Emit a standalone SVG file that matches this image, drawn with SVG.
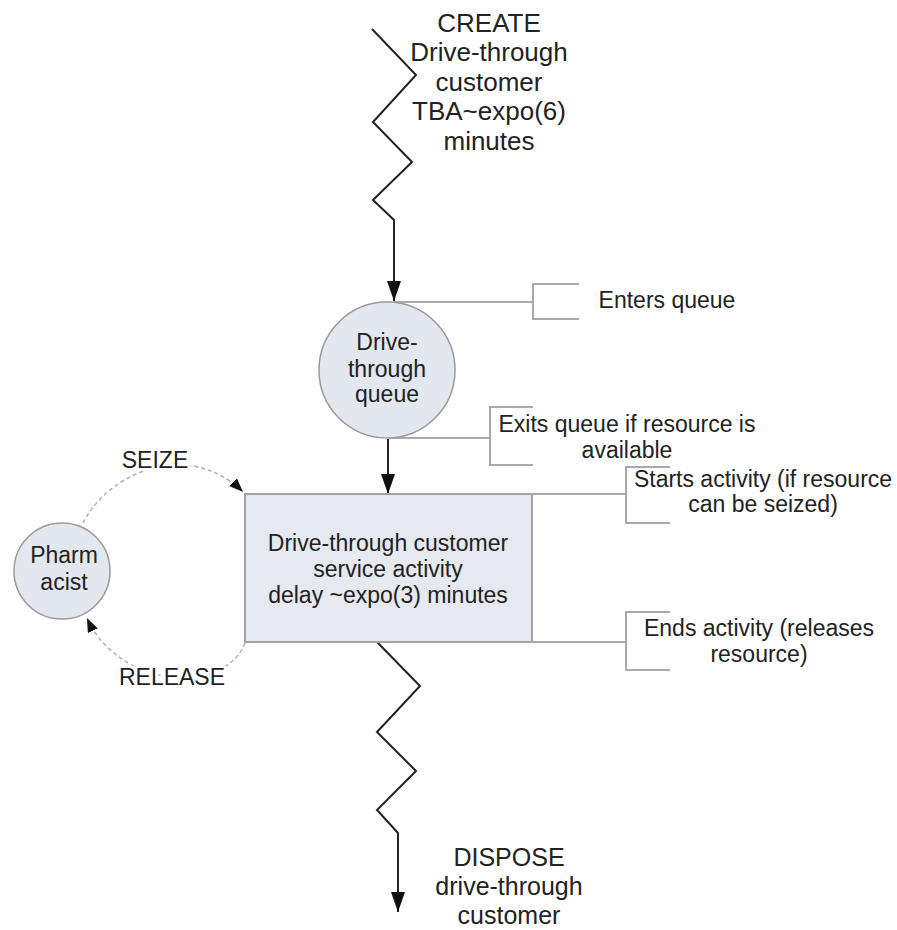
<svg xmlns="http://www.w3.org/2000/svg" width="897" height="930" viewBox="0 0 897 930">
  <style>
    .t { font-family: "Liberation Sans", Arial, sans-serif; fill: #222; text-anchor: middle; }
    .big { font-size: 26px; }
    .end { font-size: 25px; }
    .mid { font-size: 23px; }
    .flow { fill: none; stroke: #222; stroke-width: 2; }
    .note { fill: none; stroke: #a9a9a9; stroke-width: 2; }
    .res { fill: none; stroke: #b0b0b0; stroke-width: 1.5; stroke-dasharray: 4 3; }
    .node { fill: #e2e7f0; stroke: #9a9a9a; stroke-width: 1.5; }
    .halo { stroke: #fff; stroke-width: 6; paint-order: stroke; stroke-linejoin: round; }
  </style>
  <defs>
    <marker id="arrow" markerUnits="userSpaceOnUse" markerWidth="22" markerHeight="16" refX="20" refY="7" orient="auto">
      <path d="M0,0 L20,7 L0,14 z" fill="#111"/>
    </marker>
    <marker id="arrowSmall" markerUnits="userSpaceOnUse" markerWidth="16" markerHeight="12" refX="14" refY="5.5" orient="auto">
      <path d="M0,0 L14,5.5 L0,11 z" fill="#111"/>
    </marker>
  </defs>

  <rect width="897" height="930" fill="#fff"/>

  <!-- connectors -->
  <g id="connectors">
    <!-- arrivals: zigzag into the queue -->
    <polyline class="flow" points="372,29 416,75 373,122 412,162 373,200 394,220 394,301" marker-end="url(#arrow)"/>
    <!-- queue to service activity -->
    <line class="flow" x1="388" y1="439" x2="388" y2="494" marker-end="url(#arrow)"/>
    <!-- departures: zigzag out to dispose -->
    <polyline class="flow" points="377,642 420,686 377,732 416,771 377,810 398,833 398,912" marker-end="url(#arrow)"/>

    <!-- resource seize / release -->
    <path class="res" d="M83,523 C110,470 190,440 243,492" marker-end="url(#arrowSmall)"/>
    <path class="res" d="M245,643 C225,695 120,690 87,618" marker-end="url(#arrowSmall)"/>

    <!-- annotation brackets -->
    <polyline class="note" points="394,302 533,302"/>
    <polyline class="note" points="579,284 533,284 533,319 579,319"/>

    <polyline class="note" points="390,438 490,438"/>
    <polyline class="note" points="533,407 490,407 490,465 533,465"/>

    <polyline class="note" points="532,494 626,494"/>
    <polyline class="note" points="670,467 626,467 626,523 670,523"/>

    <polyline class="note" points="532,642 626,642"/>
    <polyline class="note" points="670,612 626,612 626,670 670,670"/>
  </g>

  <!-- arrivals -->
  <g id="create">
    <text class="t big" x="489" y="32">CREATE</text>
    <text class="t big" x="489" y="61">Drive-through</text>
    <text class="t big" x="489" y="91">customer</text>
    <text class="t big" x="489" y="120">TBA~expo(6)</text>
    <text class="t big" x="489" y="150">minutes</text>
  </g>

  <!-- queue -->
  <g id="queue">
    <circle class="node" cx="387" cy="370" r="68"/>
    <text class="t mid" x="387" y="350">Drive-</text>
    <text class="t mid" x="387" y="377">through</text>
    <text class="t mid" x="387" y="402">queue</text>
  </g>

  <!-- service activity -->
  <g id="activity">
    <rect x="245" y="494" width="287" height="148" fill="#e6e9ef" stroke="#a3a3a3" stroke-width="2"/>
    <text class="t mid" x="388" y="551">Drive-through customer</text>
    <text class="t mid" x="388" y="577">service activity</text>
    <text class="t mid" x="388" y="603">delay ~expo(3) minutes</text>
  </g>

  <!-- resource -->
  <g id="pharmacist">
    <circle class="node" cx="62" cy="571" r="48"/>
    <text class="t mid" x="64" y="563">Pharm</text>
    <text class="t mid" x="64" y="590">acist</text>
  </g>

  <g id="seize-label">
    <text class="t mid halo" x="155" y="468">SEIZE</text>
  </g>
  <g id="release-label">
    <text class="t mid halo" x="172" y="685">RELEASE</text>
  </g>

  <!-- annotations -->
  <g id="note-enter">
    <text class="t mid" x="667" y="308">Enters queue</text>
  </g>
  <g id="note-exit">
    <text class="t mid" x="627" y="432">Exits queue if resource is</text>
    <text class="t mid" x="627" y="458">available</text>
  </g>
  <g id="note-start">
    <text class="t mid" x="763" y="487">Starts activity (if resource</text>
    <text class="t mid" x="763" y="512">can be seized)</text>
  </g>
  <g id="note-end">
    <text class="t mid" x="759" y="636">Ends activity (releases</text>
    <text class="t mid" x="759" y="662">resource)</text>
  </g>

  <!-- departures -->
  <g id="dispose">
    <text class="t end" x="509" y="866">DISPOSE</text>
    <text class="t end" x="509" y="895">drive-through</text>
    <text class="t end" x="509" y="924">customer</text>
  </g>
</svg>
